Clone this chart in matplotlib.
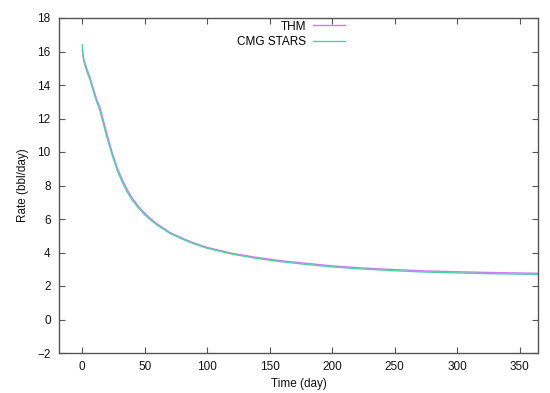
import matplotlib
matplotlib.use("Agg")
import matplotlib.pyplot as plt

time_day = [0, 1, 2, 4, 6, 8, 10, 12, 14, 17, 20, 24, 28, 32, 36, 40, 45, 50, 55, 60,
            70, 80, 90, 100, 120, 140, 160, 180, 200, 225, 250, 275, 300, 330, 365]
thm_rate = [16.1, 15.6, 15.35, 14.9, 14.5, 14.0, 13.5, 13.05, 12.7, 11.85, 11.0, 9.95,
            9.05, 8.35, 7.75, 7.25, 6.75, 6.35, 6.0, 5.7, 5.2, 4.85, 4.55, 4.3, 3.95,
            3.7, 3.5, 3.35, 3.2, 3.07, 2.98, 2.9, 2.85, 2.8, 2.76]
cmg_rate = [16.4, 15.5, 15.2, 14.75, 14.35, 13.85, 13.35, 12.9, 12.5, 11.65, 10.8, 9.8,
            8.9, 8.2, 7.6, 7.12, 6.65, 6.25, 5.92, 5.63, 5.15, 4.8, 4.5, 4.25, 3.9,
            3.64, 3.44, 3.28, 3.14, 3.01, 2.91, 2.83, 2.78, 2.73, 2.69]
x_ticks = [0, 50, 100, 150, 200, 250, 300, 350]
y_ticks = [-2, 0, 2, 4, 6, 8, 10, 12, 14, 16, 18]

plt.rcParams['font.family'] = ['Liberation Sans', 'DejaVu Sans']
plt.rcParams['font.size'] = 8.5

fig = plt.figure(figsize=(5.5, 3.93), dpi=100)
ax = fig.add_axes([59/550, 1-353/393, (538-59)/550, (353-18)/393])

ax.plot(time_day, thm_rate, color='#d078f0', lw=1.0, label='THM')
ax.plot(time_day, cmg_rate, color='#50d0a8', lw=1.0, label='CMG STARS')

ax.set_xlim(-18.6, 364.6)
ax.set_ylim(-2, 18)
ax.set_xticks(x_ticks)
ax.set_yticks(y_ticks)
ax.tick_params(direction='in', length=4, width=0.8, top=True, right=True,
               color='#555555', labelcolor='#111111', pad=6)
for s in ax.spines.values():
    s.set_color('#555555')
    s.set_linewidth(1.0)

ax.set_xlabel('Time (day)', color='#111111', labelpad=3)
ax.set_ylabel('Rate (bbl/day)', color='#111111', labelpad=6)

leg = ax.legend(loc='upper right', bbox_to_anchor=(345/550, 1-20.5/393),
                bbox_transform=fig.transFigure, frameon=False, markerfirst=False,
                handlelength=2.7, handletextpad=0.6, labelspacing=0.3,
                borderaxespad=0, borderpad=0)

fig.savefig('out.png', dpi=100)
